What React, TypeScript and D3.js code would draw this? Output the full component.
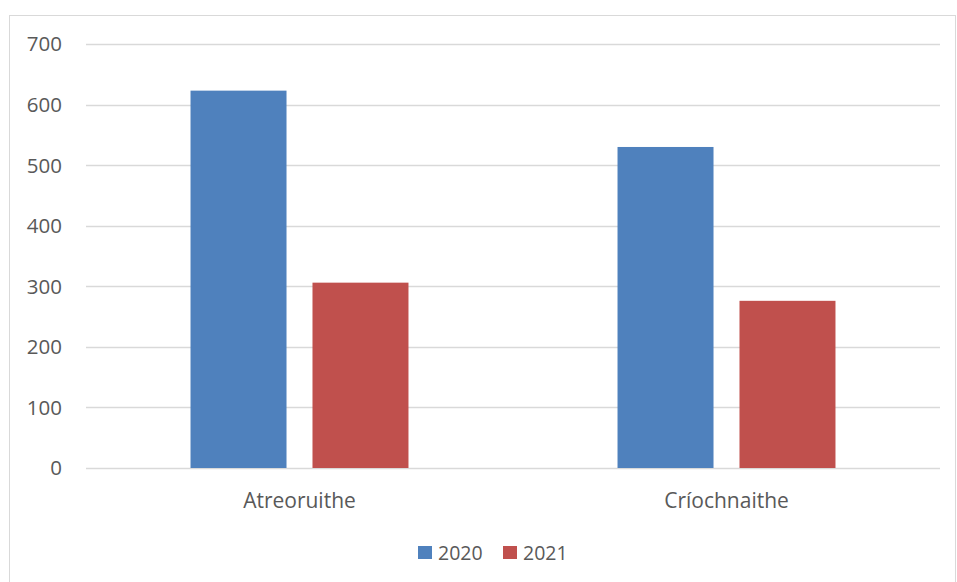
import React, { useEffect, useRef } from "react";
import * as d3 from "d3";

// categorías y series
const categories = ["Atreoruithe", "Críochnaithe"];
const seriesNames = ["2020", "2021"];
const values2020 = [623, 530];
const values2021 = [306, 276];
const yTicks = [0, 100, 200, 300, 400, 500, 600, 700];

const colors: { [key: string]: string } = {
    "2020": "#4F81BD",
    "2021": "#C0504D",
};

const W = 957;
const H = 582;
const FONT = "'Open Sans', 'Noto Sans', sans-serif";

const App: React.FC = () => {
    const svgRef = useRef<SVGSVGElement | null>(null);

    useEffect(() => {
        if (!svgRef.current) return;
        const svg = d3.select(svgRef.current);
        svg.selectAll("*").remove();

        const left = 86;
        const right = 940;
        const top = 44;
        const bottom = 468;

        // borde del gráfico
        svg.append("rect")
            .attr("x", 9.5)
            .attr("y", 15.5)
            .attr("width", 946)
            .attr("height", 600)
            .attr("fill", "#fff")
            .attr("stroke", "#D9D9D9")
            .attr("stroke-width", 1);

        const y = d3.scaleLinear().domain([0, 700]).range([bottom, top]);
        const x0 = d3.scaleBand<string>().domain(categories).range([left, right]).padding(0);
        const x1 = d3.scaleBand<string>()
            .domain(seriesNames)
            .range([0, x0.bandwidth()])
            .paddingInner(0.213)
            .paddingOuter(0.857);

        // líneas de cuadrícula
        svg.append("g")
            .selectAll("line")
            .data(yTicks)
            .enter()
            .append("line")
            .attr("x1", left)
            .attr("x2", right)
            .attr("y1", (d) => Math.round(y(d)) + 0.5)
            .attr("y2", (d) => Math.round(y(d)) + 0.5)
            .attr("stroke", "#D9D9D9")
            .attr("stroke-width", 1.3);

        // etiquetas del eje Y
        svg.append("g")
            .selectAll("text")
            .data(yTicks)
            .enter()
            .append("text")
            .attr("x", 62)
            .attr("y", (d) => y(d))
            .attr("dy", "0.36em")
            .attr("text-anchor", "end")
            .attr("fill", "#595959")
            .style("font-family", FONT)
            .style("font-size", "20.5px")
            .text((d) => d);

        const rows = categories.map((c, i) => ({
            category: c,
            values: [
                { key: "2020", value: values2020[i] },
                { key: "2021", value: values2021[i] },
            ],
        }));

        const groups = svg.append("g")
            .selectAll("g")
            .data(rows)
            .enter()
            .append("g")
            .attr("transform", (d) => `translate(${x0(d.category)},0)`);

        groups.selectAll("rect")
            .data((d) => d.values)
            .enter()
            .append("rect")
            .attr("x", (d) => x1(d.key) as number)
            .attr("y", (d) => y(d.value))
            .attr("width", x1.bandwidth())
            .attr("height", (d) => y(0) - y(d.value))
            .attr("fill", (d) => colors[d.key]);

        // etiquetas del eje X
        svg.append("g")
            .selectAll("text")
            .data(categories)
            .enter()
            .append("text")
            .attr("x", (d) => (x0(d) as number) + x0.bandwidth() / 2)
            .attr("y", 500)
            .attr("dy", "0.36em")
            .attr("text-anchor", "middle")
            .attr("fill", "#595959")
            .style("font-family", FONT)
            .style("font-size", "21px")
            .text((d) => d);

        // leyenda
        const legendX = [418, 503];
        const legend = svg.append("g")
            .selectAll("g")
            .data(seriesNames)
            .enter()
            .append("g")
            .attr("transform", (d, i) => `translate(${legendX[i]},546)`);

        legend.append("rect")
            .attr("width", 14)
            .attr("height", 13)
            .attr("fill", (d) => colors[d]);

        legend.append("text")
            .attr("x", 20)
            .attr("y", 6.5)
            .attr("dy", "0.36em")
            .attr("fill", "#595959")
            .style("font-family", FONT)
            .style("font-size", "19.5px")
            .text((d) => d);
    }, []);

    return (
        <svg
            ref={svgRef}
            width={W}
            height={H}
            style={{ position: "absolute", left: 0, top: 0, background: "#fff" }}
        ></svg>
    );
};

export default App;
